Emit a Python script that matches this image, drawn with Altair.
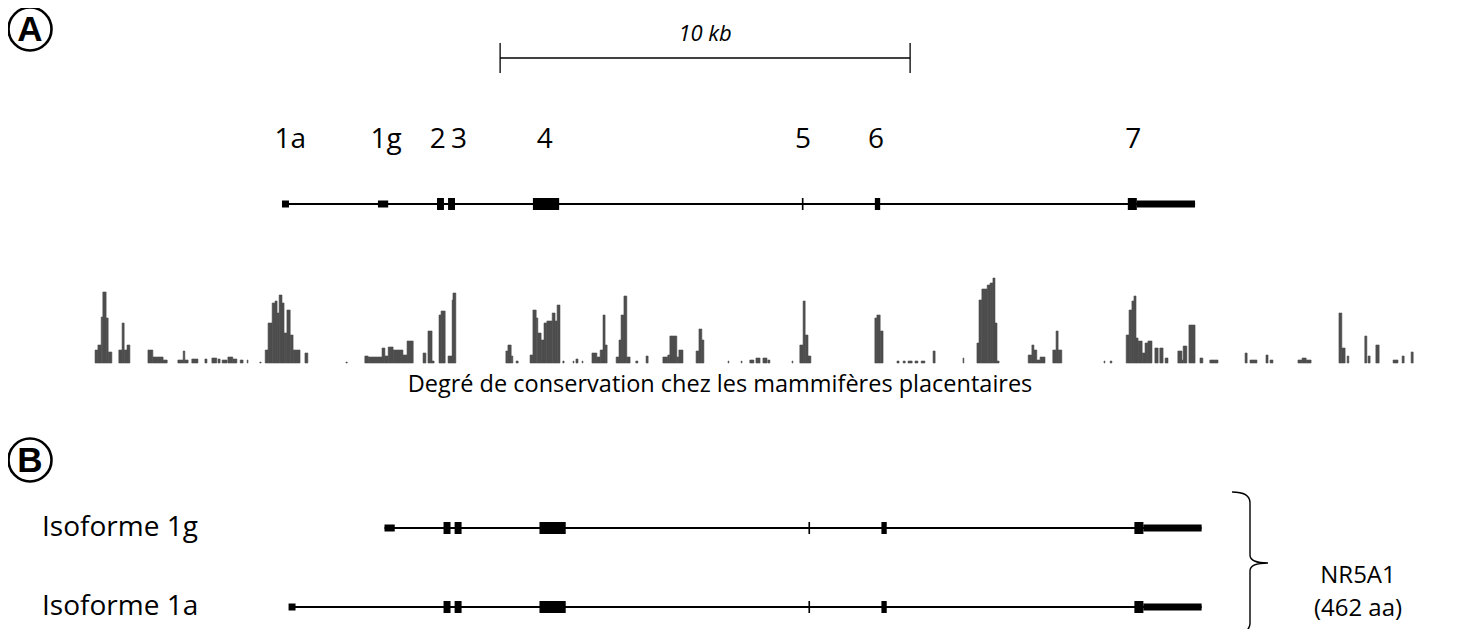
import altair as alt
import pandas as pd

# ---------------- data ----------------
# gene model of NR5A1, positions in kb (origin = start of exon 1a)
exon_name = ["1a", "1g", "2", "3", "4", "5", "6", "7", "7"]
exon_start = [0.00, 2.34, 3.78, 4.05, 6.12, 12.68, 14.46, 20.63, 20.85]
exon_end = [0.17, 2.59, 3.95, 4.22, 6.76, 12.72, 14.59, 20.85, 22.27]
exon_kind = ["utr", "utr", "cds", "cds", "cds", "cds", "cds", "cds", "utr"]
gene_start = 0.07
gene_end = 22.27

label_text = ["1a", "1g", "2", "3", "4", "5", "6", "7"]
label_pos = [0.20, 2.54, 3.80, 4.32, 6.41, 12.71, 14.49, 20.76]

scale_start = 5.32
scale_len = 10.0
scale_text = "10 kb"

iso_names = ["Isoforme 1g", "Isoforme 1a"]
iso_first = ["1g", "1a"]
protein_name = "NR5A1"
protein_len = "(462 aa)"
cons_title = "Degré de conservation chez les mammifères placentaires"

# conservation track (placental mammals), kb start / end / score
cons_start = [-4.56, -4.49, -4.41, -4.37, -4.29, -4.24,
              -3.98, -3.90, -3.85, -3.78,
              -3.27, -3.15, -2.90,
              -2.54, -2.41, -2.37, -2.20,
              -1.88, -1.71, -1.56, -1.46, -1.32, -1.20, -1.02, -0.85,
              -0.54,
              -0.41, -0.34, -0.24, -0.17, -0.12, -0.07, 0.00, 0.05, 0.12, 0.20, 0.27,
              0.56, 1.56,
              2.02, 2.10, 2.34, 2.44, 2.51, 2.59, 2.71, 2.95, 3.05,
              3.44, 3.56, 3.66,
              3.83, 3.88,
              4.05, 4.15, 4.17,
              5.46, 5.51, 5.59, 5.71,
              6.05, 6.12, 6.20, 6.24, 6.32, 6.39, 6.46, 6.59, 6.66, 6.71,
              6.85, 7.10, 7.17, 7.32,
              7.56, 7.68, 7.76, 7.83, 7.88,
              8.15, 8.22, 8.27, 8.34, 8.41,
              8.63, 8.88,
              9.29, 9.41, 9.46, 9.63, 9.68,
              10.10, 10.17, 10.24,
              10.88, 11.20, 11.41, 11.56, 11.73, 11.85,
              12.44,
              12.63, 12.71, 12.76, 12.83,
              14.46, 14.51, 14.59,
              15.00, 15.15, 15.27, 15.44, 15.59, 15.88,
              16.61,
              16.95, 17.00, 17.07, 17.20, 17.27, 17.34, 17.39, 17.44,
              18.20, 18.29, 18.34, 18.41, 18.49,
              18.80, 18.88, 18.93,
              20.05, 20.20,
              20.59, 20.66, 20.73, 20.78, 20.83, 20.88, 20.98, 21.05, 21.12,
              21.29, 21.41, 21.54,
              21.85, 21.95, 21.98, 22.12,
              22.39, 22.63,
              23.49, 23.61,
              24.00, 24.10,
              24.78, 24.88, 24.98,
              25.78, 25.85, 25.98,
              26.41, 26.49,
              26.68,
              27.10, 27.32, 27.54]
cons_end = [-4.49, -4.41, -4.37, -4.29, -4.24, -4.15,
            -3.90, -3.85, -3.78, -3.71,
            -3.15, -2.90, -2.80,
            -2.41, -2.37, -2.29, -2.05,
            -1.83, -1.59, -1.51, -1.34, -1.20, -1.10, -0.95, -0.83,
            -0.51,
            -0.34, -0.24, -0.17, -0.12, -0.07, 0.00, 0.05, 0.12, 0.20, 0.27, 0.44,
            0.63, 1.59,
            2.10, 2.34, 2.44, 2.51, 2.59, 2.71, 2.95, 3.05, 3.20,
            3.51, 3.66, 3.71,
            3.88, 3.98,
            4.15, 4.17, 4.24,
            5.51, 5.59, 5.63, 5.76,
            6.12, 6.20, 6.24, 6.32, 6.39, 6.46, 6.59, 6.66, 6.71, 6.78,
            6.88, 7.12, 7.22, 7.34,
            7.68, 7.76, 7.83, 7.88, 7.93,
            8.22, 8.27, 8.34, 8.41, 8.49,
            8.68, 8.93,
            9.41, 9.46, 9.63, 9.68, 9.78,
            10.17, 10.24, 10.29,
            10.90, 11.22, 11.51, 11.66, 11.83, 11.90,
            12.46,
            12.71, 12.76, 12.83, 12.90,
            14.51, 14.59, 14.66,
            15.05, 15.20, 15.37, 15.51, 15.68, 15.93,
            16.63,
            17.00, 17.07, 17.20, 17.27, 17.34, 17.39, 17.44, 17.49,
            18.29, 18.34, 18.41, 18.49, 18.61,
            18.88, 18.93, 19.02,
            20.07, 20.24,
            20.66, 20.73, 20.78, 20.83, 20.88, 20.98, 21.05, 21.12, 21.22,
            21.37, 21.49, 21.61,
            21.95, 21.98, 22.07, 22.27,
            22.46, 22.83,
            23.54, 23.78,
            24.05, 24.17,
            24.88, 24.98, 25.10,
            25.85, 25.93, 26.02,
            26.46, 26.54,
            26.76,
            27.22, 27.37, 27.59]
cons_score = [13, 18, 46, 71, 45, 11,
              13, 40, 13, 18,
              13, 6, 3,
              3, 12, 3, 4,
              4, 5, 4, 3, 6, 4, 3, 3,
              1,
              13, 40, 60, 62, 50, 68, 60, 30, 53, 28, 13,
              10, 1,
              7, 6, 6, 15, 7, 16, 13, 8, 22,
              10, 32, 2,
              48, 52,
              7, 63, 70,
              12, 18, 7, 2,
              8, 53, 45, 30, 23, 40, 42, 50, 42, 58,
              2, 2, 4, 2,
              10, 6, 13, 48, 18,
              6, 23, 48, 67, 6,
              2, 7,
              6, 8, 27, 6, 13,
              12, 34, 23,
              2, 2, 3, 5, 5, 3,
              2,
              18, 62, 28, 7,
              45, 48, 32,
              2, 2, 2, 2, 2, 12,
              5,
              20, 63, 74, 78, 80, 85, 40, 2,
              8, 18, 13, 3, 6,
              13, 32, 13,
              2, 2,
              28, 53, 62, 67, 25, 22, 10, 20, 22,
              15, 15, 5,
              12, 3, 17, 38,
              5, 3,
              10, 3,
              8, 3,
              3, 5, 3,
              50, 15, 7,
              27, 7,
              18,
              3, 7, 11]

# ---------------- layout ----------------
W, H = 1444, 621
DOMAIN = [-6.683, 28.537]
B_SHIFT = 0.16
CONS_BASE = 355          # baseline of the conservation track (px from top)
CONS_PX = 1.0            # px per conservation unit
FONT = "Open Sans"
INK = "black"
GREY = "#4d4d4d"

XS = alt.Scale(domain=DOMAIN, nice=False, zero=False)
size_scale = alt.Scale(domain=["intron", "utr", "cds"], range=[2, 12, 24])


def gene_rows(names, shift):
    rows = []
    first = min(exon_start[exon_name.index(n)] for n in names)
    rows.append({"s": max(first, gene_start) + shift, "e": gene_end + shift, "kind": "intron"})
    for n, s, e, k in zip(exon_name, exon_start, exon_end, exon_kind):
        if n in names:
            rows.append({"s": s + shift, "e": e + shift, "kind": k})
    return pd.DataFrame(rows)


def gene_layer(df, ypos):
    return alt.Chart(df).mark_rule(color=INK, strokeCap="butt").encode(
        x=alt.X("s:Q", scale=XS, axis=None),
        x2="e:Q",
        y=alt.value(ypos),
        size=alt.Size("kind:N", scale=size_scale, legend=None),
    )


def note(text, x, y, **kw):
    return alt.Chart(pd.DataFrame({"t": [text]})).mark_text(**kw).encode(
        text="t:N", x=alt.value(x), y=alt.value(y))


def circled(letter, x, y):
    ring = alt.Chart(pd.DataFrame({"t": [letter]})).mark_point(
        shape="circle", size=43 * 43, filled=False, color=INK, strokeWidth=2.6, opacity=1
    ).encode(x=alt.value(x), y=alt.value(y))
    txt = note(letter, x, y + 1, font="Liberation Sans", fontWeight="bold", fontSize=35,
               baseline="middle", align="center", color=INK)
    return [ring, txt]


# ---------------- panel A (gene + scale) ----------------
all_names = list(dict.fromkeys(exon_name))
top_gene = gene_layer(gene_rows(all_names, 0.0), 196)

labels = alt.Chart(pd.DataFrame({"t": label_text, "p": label_pos})).mark_text(
    font=FONT, fontSize=28, baseline="middle", align="center", color=INK
).encode(x=alt.X("p:Q", scale=XS, axis=None), y=alt.value(132), text="t:N")

sb = pd.DataFrame({"s": [scale_start], "e": [scale_start + scale_len],
                   "m": [scale_start + scale_len / 2], "t": [scale_text]})
sb_line = alt.Chart(sb).mark_rule(color=INK, strokeWidth=1.3).encode(
    x=alt.X("s:Q", scale=XS, axis=None), x2="e:Q", y=alt.value(50))
sb_ticks = alt.Chart(pd.DataFrame({"p": [scale_start, scale_start + scale_len]})).mark_rule(
    color=INK, strokeWidth=1.3).encode(
    x=alt.X("p:Q", scale=XS, axis=None), y=alt.value(35), y2=alt.value(65))
sb_text = alt.Chart(sb).mark_text(font=FONT, fontStyle="italic", fontSize=22,
                                  baseline="middle", align="center", color=INK).encode(
    x=alt.X("m:Q", scale=XS, axis=None), y=alt.value(26), text="t:N")

# ---------------- conservation track ----------------
cons_df = pd.DataFrame({"s": cons_start, "e": cons_end, "score": cons_score})
cons_domain = [-(H - CONS_BASE) / CONS_PX, CONS_BASE / CONS_PX]
cons = alt.Chart(cons_df).mark_rect(color=GREY, stroke=GREY, strokeWidth=0.6).encode(
    x=alt.X("s:Q", scale=XS, axis=None),
    x2="e:Q",
    y=alt.Y("score:Q", scale=alt.Scale(domain=cons_domain, nice=False, zero=False), axis=None),
    y2=alt.datum(0),
)

# ---------------- panel B (isoforms) ----------------
others = [n for n in all_names if n not in iso_first]
iso_rows_y = [520, 599]
iso_layers = []
for name, first, yy in zip(iso_names, iso_first, iso_rows_y):
    iso_layers.append(gene_layer(gene_rows([first] + others, B_SHIFT), yy))
    iso_layers.append(note(name, 34, yy, font=FONT, fontSize=28, baseline="middle",
                           align="left", color=INK))

brace_path = ("M -0.248 -0.979 Q 0 -0.979 0 -0.83 L 0 -0.11 Q 0 0 0.248 0 "
              "Q 0 0 0 0.11 L 0 0.83 Q 0 0.979 -0.248 0.979")
brace = alt.Chart(pd.DataFrame({"t": [protein_name]})).mark_point(
    shape=brace_path, size=145 * 145, filled=False, color=INK, strokeWidth=1.4, opacity=1
).encode(x=alt.value(1242), y=alt.value(555))

chart = alt.layer(
    *circled("A", 22, 21),
    sb_line, sb_ticks, sb_text, labels, top_gene,
    cons,
    note(cons_title, 712, 377, font=FONT, fontSize=23.5, baseline="middle", align="center", color=INK),
    *circled("B", 22, 452),
    *iso_layers,
    brace,
    note(protein_name, 1350, 568, font=FONT, fontSize=24, baseline="middle", align="center", color=INK),
    note(protein_len, 1350, 601, font=FONT, fontSize=24, baseline="middle", align="center", color=INK),
).properties(
    width=W, height=H, padding=0,
    autosize=alt.AutoSizeParams(type="none"),
).configure_view(stroke=None)

chart.save("out.html", embed_options={"renderer": "svg", "actions": False})
